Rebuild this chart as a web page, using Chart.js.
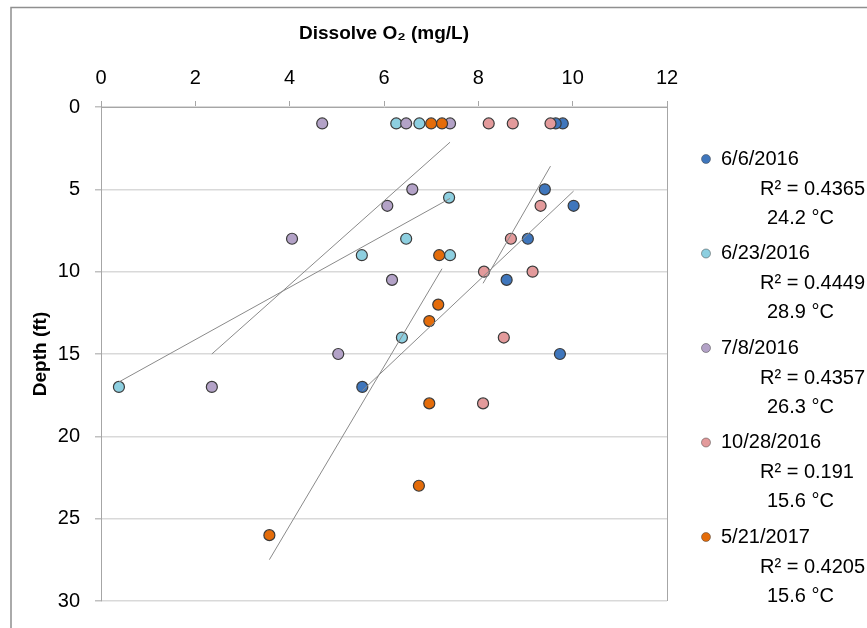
<!DOCTYPE html>
<html>
<head>
<meta charset="utf-8">
<script src="https://cdn.jsdelivr.net/npm/chart.js@4.4.1/dist/chart.umd.min.js"></script>
<style>
  body { margin: 0; background: #fff; }
  #wrap { width: 867px; height: 628px; position: relative; }
</style>
</head>
<body>
<div id="wrap"><canvas id="chart"></canvas></div>
<script>
// series labels for the legend
var dates = ['6/6/2016', '6/23/2016', '7/8/2016', '10/28/2016', '5/21/2017'];
var r2Text = ['0.4365', '0.4449', '0.4357', '0.191', '0.4205'];
var tempText = ['24.2', '28.9', '26.3', '15.6', '15.6'];
var colors = ['#3F76BC', '#8DCFE0', '#B3A2C7', '#E39A9B', '#E46C0A'];

// dissolved O2 (mg/L) and depth (ft) per sampling date
var do0606 = [9.79, 9.64, 9.41, 10.02, 9.05, 8.6, 9.73, 5.54];
var depth0606 = [1, 1, 5, 6, 8, 10.5, 15, 17];
var do0623 = [6.26, 6.75, 7.38, 6.47, 5.53, 7.4, 6.38, 0.38];
var depth0623 = [1, 1, 5.5, 8, 9, 9, 14, 17];
var do0708 = [4.69, 6.47, 7.4, 6.6, 6.07, 4.05, 6.17, 5.03, 2.35];
var depth0708 = [1, 1, 1, 5, 6, 8, 10.5, 15, 17];
var do1028 = [8.22, 8.73, 9.53, 9.32, 8.69, 8.12, 9.15, 8.54, 8.1];
var depth1028 = [1, 1, 1, 6, 8, 10, 10, 14, 18];
var do0521 = [7.0, 7.23, 7.17, 7.15, 6.96, 6.96, 6.74, 3.57];
var depth0521 = [1, 1, 9, 12, 13, 18, 23, 26];

var xSeries = [do0606, do0623, do0708, do1028, do0521];
var ySeries = [depth0606, depth0623, depth0708, depth1028, depth0521];

var FONT = "'Liberation Sans', Arial, sans-serif";

// least squares trendline (depth on DO) across the x range of the series
function trend(xs, ys) {
  var n = xs.length, mx = 0, my = 0;
  for (var i = 0; i < n; i++) { mx += xs[i]; my += ys[i]; }
  mx /= n; my /= n;
  var sxy = 0, sxx = 0;
  for (var i = 0; i < n; i++) {
    sxy += (xs[i] - mx) * (ys[i] - my);
    sxx += (xs[i] - mx) * (xs[i] - mx);
  }
  var b = sxy / sxx, a = my - b * mx;
  var lo = Math.min.apply(null, xs), hi = Math.max.apply(null, xs);
  return [{x: lo, y: a + b * lo}, {x: hi, y: a + b * hi}];
}

var datasets = [];
for (var s = 0; s < dates.length; s++) {
  var pts = [];
  for (var i = 0; i < xSeries[s].length; i++) pts.push({x: xSeries[s][i], y: ySeries[s][i]});
  datasets.push({
    label: dates[s],
    data: pts,
    backgroundColor: colors[s],
    borderColor: '#3a3a3a',
    borderWidth: 1.2,
    pointRadius: 5.5,
    order: 10 - s
  });
}
for (var s = 0; s < dates.length; s++) {
  datasets.push({
    label: 'trend ' + dates[s],
    data: trend(xSeries[s], ySeries[s]),
    showLine: true,
    borderColor: '#8a8a8a',
    borderWidth: 1,
    pointRadius: 0,
    order: 0
  });
}

// outer frame and the right side legend
var decor = {
  id: 'decor',
  beforeDraw: function(chart) {
    var ctx = chart.ctx;
    ctx.save();
    ctx.strokeStyle = '#8f8f8f';
    ctx.lineWidth = 1.5;
    ctx.strokeRect(11, 7.5, 900, 700);
    ctx.restore();
  },
  afterDraw: function(chart) {
    var ctx = chart.ctx;
    ctx.save();
    ctx.font = '20px ' + FONT;
    ctx.fillStyle = '#000';
    ctx.textBaseline = 'middle';
    for (var s = 0; s < dates.length; s++) {
      var y0 = 159 + s * 94.5;
      ctx.beginPath();
      ctx.arc(706, y0, 4.5, 0, Math.PI * 2);
      ctx.fillStyle = colors[s];
      ctx.fill();
      ctx.strokeStyle = 'rgba(60,60,60,0.6)';
      ctx.lineWidth = 0.8;
      ctx.stroke();
      ctx.fillStyle = '#000';
      ctx.fillText(dates[s], 721, y0);
      ctx.fillText('R\u00B2 = ' + r2Text[s], 760, y0 + 30);
      ctx.fillText(tempText[s] + ' \u00B0C', 767, y0 + 59);
    }
    ctx.restore();
  }
};

var ctx = document.getElementById('chart').getContext('2d');
window.myChart = new Chart(ctx, {
  type: 'scatter',
  data: { datasets: datasets },
  options: {
    responsive: true,
    maintainAspectRatio: false,
    animation: false,
    layout: { padding: { left: 0, top: 0, right: 200, bottom: 15 } },
    plugins: {
      legend: { display: false },
      tooltip: { enabled: false }
    },
    scales: {
      x: {
        type: 'linear',
        position: 'top',
        min: 0,
        max: 12,
        ticks: { stepSize: 2, padding: 11, color: '#000', font: { family: FONT, size: 20 } },
        grid: {
          color: function(c) { return c.index === 6 ? '#a6a6a6' : 'rgba(0,0,0,0)'; },
          tickColor: '#a6a6a6',
          tickLength: 6
        },
        border: { display: true, color: '#a6a6a6', width: 1 },
        title: {
          display: true,
          text: 'Dissolve O\u2082 (mg/L)',
          color: '#000',
          font: { family: FONT, size: 19, weight: 'bold' },
          padding: { top: 22, bottom: 0 }
        },
        afterFit: function(scale) { scale.height = 107; }
      },
      y: {
        type: 'linear',
        reverse: true,
        min: 0,
        max: 30,
        ticks: { stepSize: 5, padding: 15, color: '#000', font: { family: FONT, size: 20 } },
        grid: { color: '#d9d9d9', lineWidth: 1.5, tickColor: '#c0c0c0', tickLength: 6 },
        border: { display: true, color: '#a6a6a6', width: 1 },
        title: {
          display: true,
          text: 'Depth (ft)',
          color: '#000',
          font: { family: FONT, size: 19, weight: 'bold' },
          padding: { top: 29, bottom: 0 }
        },
        afterFit: function(scale) { scale.width = 101; }
      }
    }
  },
  plugins: [decor]
});
</script>
</body>
</html>
